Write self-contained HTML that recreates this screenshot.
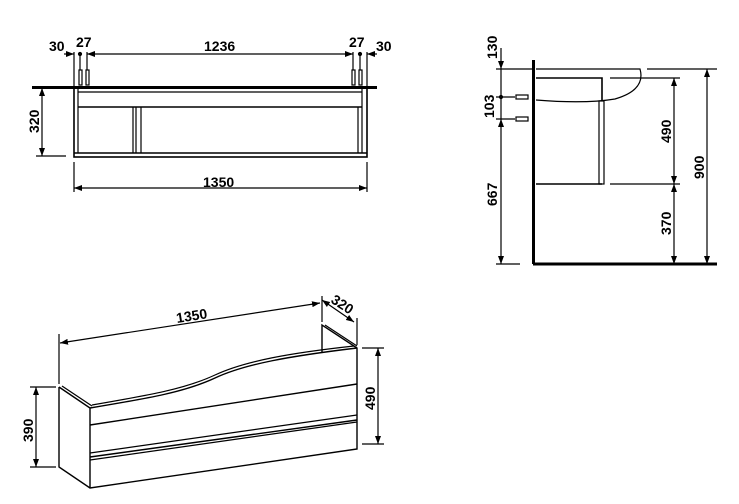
<!DOCTYPE html>
<html><head><meta charset="utf-8"><style>
html,body{margin:0;padding:0;background:#fff;}
svg{display:block;}
text{font-family:"Liberation Sans",sans-serif;font-weight:bold;font-size:14px;fill:#000;}
</style></head><body>
<svg width="739" height="504" viewBox="0 0 739 504" xmlns="http://www.w3.org/2000/svg">
<defs>
<marker id="a" markerWidth="8" markerHeight="6" refX="8" refY="3" orient="auto" markerUnits="userSpaceOnUse"><path d="M0,0 L8,3 L0,6 z" fill="#000"/></marker>
<marker id="b" markerWidth="8" markerHeight="6" refX="0" refY="3" orient="auto" markerUnits="userSpaceOnUse"><path d="M8,0 L0,3 L8,6 z" fill="#000"/></marker>
</defs>
<g stroke="#000" fill="none" stroke-width="1.2">
<!-- Front view -->
<line x1="32" y1="87.5" x2="377" y2="87.5" stroke-width="3"/>
<rect x="74" y="88" width="293" height="69" stroke-width="1.6"/>
<line x1="78" y1="92" x2="362" y2="92"/>
<line x1="78" y1="107" x2="362" y2="107" stroke-width="1.6"/>
<line x1="78" y1="88" x2="78" y2="153"/>
<line x1="362" y1="88" x2="362" y2="153"/>
<line x1="74" y1="153" x2="367" y2="153" stroke-width="1.6"/>
<line x1="133" y1="107" x2="133" y2="153"/>
<line x1="136" y1="107" x2="136" y2="153"/>
<line x1="141" y1="107" x2="141" y2="153"/>
<line x1="358" y1="107" x2="358" y2="153"/>
<!-- bolts -->
<rect x="79" y="70" width="3" height="15"/><rect x="86" y="70" width="3" height="15"/>
<rect x="352" y="70" width="3" height="15"/><rect x="359" y="70" width="3" height="15"/>
<line x1="74" y1="52" x2="74" y2="87"/><line x1="367" y1="52" x2="367" y2="87"/>
<line x1="80" y1="52" x2="80" y2="70"/><line x1="87" y1="52" x2="87" y2="70"/>
<line x1="353" y1="52" x2="353" y2="70"/><line x1="360" y1="52" x2="360" y2="70"/>
<line x1="64" y1="54" x2="74" y2="54" marker-end="url(#a)"/>
<line x1="87" y1="54" x2="353" y2="54" marker-start="url(#b)" marker-end="url(#a)"/>
<line x1="367" y1="54" x2="377" y2="54" marker-start="url(#b)"/>
<circle cx="80" cy="54" r="1.5" fill="#000"/><circle cx="360" cy="54" r="1.5" fill="#000"/>
<line x1="74" y1="162" x2="74" y2="192"/><line x1="367" y1="162" x2="367" y2="192"/>
<line x1="74" y1="188" x2="367" y2="188" marker-start="url(#b)" marker-end="url(#a)"/>
<line x1="42" y1="88" x2="42" y2="156" marker-start="url(#b)" marker-end="url(#a)"/>
<line x1="36" y1="156" x2="66" y2="156"/>
<!-- Side view -->
<line x1="533.5" y1="60" x2="533.5" y2="264" stroke-width="3"/>
<line x1="533" y1="264" x2="717" y2="264" stroke-width="3"/>
<path d="M536,69 L640,69 Q646,90 615,99 Q585,104 536,100"/>
<path d="M536,78 L602,78 L602,101" stroke-width="1.6"/>
<line x1="536" y1="184" x2="602" y2="184" stroke-width="1.6"/>
<rect x="599" y="101" width="5" height="83"/>
<rect x="516" y="95" width="12" height="4" fill="#fff"/>
<rect x="516" y="117" width="12" height="4" fill="#fff"/>
<line x1="496" y1="69" x2="533" y2="69"/>
<line x1="496" y1="97" x2="515" y2="97"/><line x1="496" y1="119" x2="515" y2="119"/>
<line x1="496" y1="264" x2="520" y2="264"/>
<line x1="501" y1="48" x2="501" y2="69" marker-end="url(#a)"/>
<line x1="501" y1="69" x2="501" y2="119"/>
<circle cx="501" cy="97" r="1.5" fill="#000"/>
<line x1="501" y1="119" x2="501" y2="264" marker-start="url(#b)" marker-end="url(#a)"/>
<line x1="647" y1="69" x2="717" y2="69"/>
<line x1="610" y1="78" x2="680" y2="78"/>
<line x1="610" y1="184" x2="680" y2="184"/>
<line x1="674" y1="78" x2="674" y2="184" marker-start="url(#b)" marker-end="url(#a)"/>
<line x1="674" y1="184" x2="674" y2="264" marker-start="url(#b)" marker-end="url(#a)"/>
<line x1="707" y1="69" x2="707" y2="264" marker-start="url(#b)" marker-end="url(#a)"/>
<!-- Perspective view -->
<path d="M59,387 L59,467 L90,488 L357,449 L357,348 L322,325 L322,352" stroke-width="1.4"/>
<path d="M59,387 L90,408 L90,488" stroke-width="1.4"/>
<line x1="62" y1="386" x2="92" y2="406"/>
<path d="M90,408 C150,398 185,392 215,378 C245,364 290,356 357,348" stroke-width="1.4"/>
<path d="M92,405 C150,395 185,389 215,375 C245,361 290,353 354,346"/>
<line x1="325" y1="325" x2="357" y2="346"/>
<line x1="90" y1="425" x2="357" y2="384" stroke-width="1.4"/>
<line x1="90" y1="453" x2="357" y2="415"/>
<line x1="90" y1="457" x2="357" y2="420" stroke-width="1.4"/>
<line x1="90" y1="460" x2="357" y2="422"/>
<line x1="59" y1="384" x2="59" y2="334"/>
<line x1="60" y1="343" x2="320" y2="303" marker-start="url(#b)" marker-end="url(#a)"/>
<line x1="322" y1="300" x2="354" y2="322" marker-start="url(#b)" marker-end="url(#a)"/>
<line x1="322" y1="296" x2="322" y2="322"/>
<line x1="357" y1="318" x2="357" y2="345"/>
<line x1="30" y1="387" x2="56" y2="387"/><line x1="30" y1="467" x2="56" y2="467"/>
<line x1="36" y1="387" x2="36" y2="467" marker-start="url(#b)" marker-end="url(#a)"/>
<line x1="362" y1="348" x2="384" y2="348"/><line x1="362" y1="444" x2="384" y2="444"/>
<line x1="378" y1="348" x2="378" y2="444" marker-start="url(#b)" marker-end="url(#a)"/>
</g>
<text x="49" y="51">30</text>
<text x="76" y="47">27</text>
<text x="204" y="51">1236</text>
<text x="349" y="47">27</text>
<text x="376" y="51">30</text>
<text x="203" y="187">1350</text>
<text transform="translate(39,133) rotate(-90)">320</text>
<text transform="translate(497,59) rotate(-90)">130</text>
<text transform="translate(494,118) rotate(-90)">103</text>
<text transform="translate(497,206) rotate(-90)">667</text>
<text transform="translate(671,143) rotate(-90)">490</text>
<text transform="translate(671,235) rotate(-90)">370</text>
<text transform="translate(704,179) rotate(-90)">900</text>
<text transform="translate(177,323) rotate(-9)">1350</text>
<text transform="translate(330,302) rotate(33)">320</text>
<text transform="translate(33,442) rotate(-90)">390</text>
<text transform="translate(375,410) rotate(-90)">490</text>
</svg>
</body></html>
